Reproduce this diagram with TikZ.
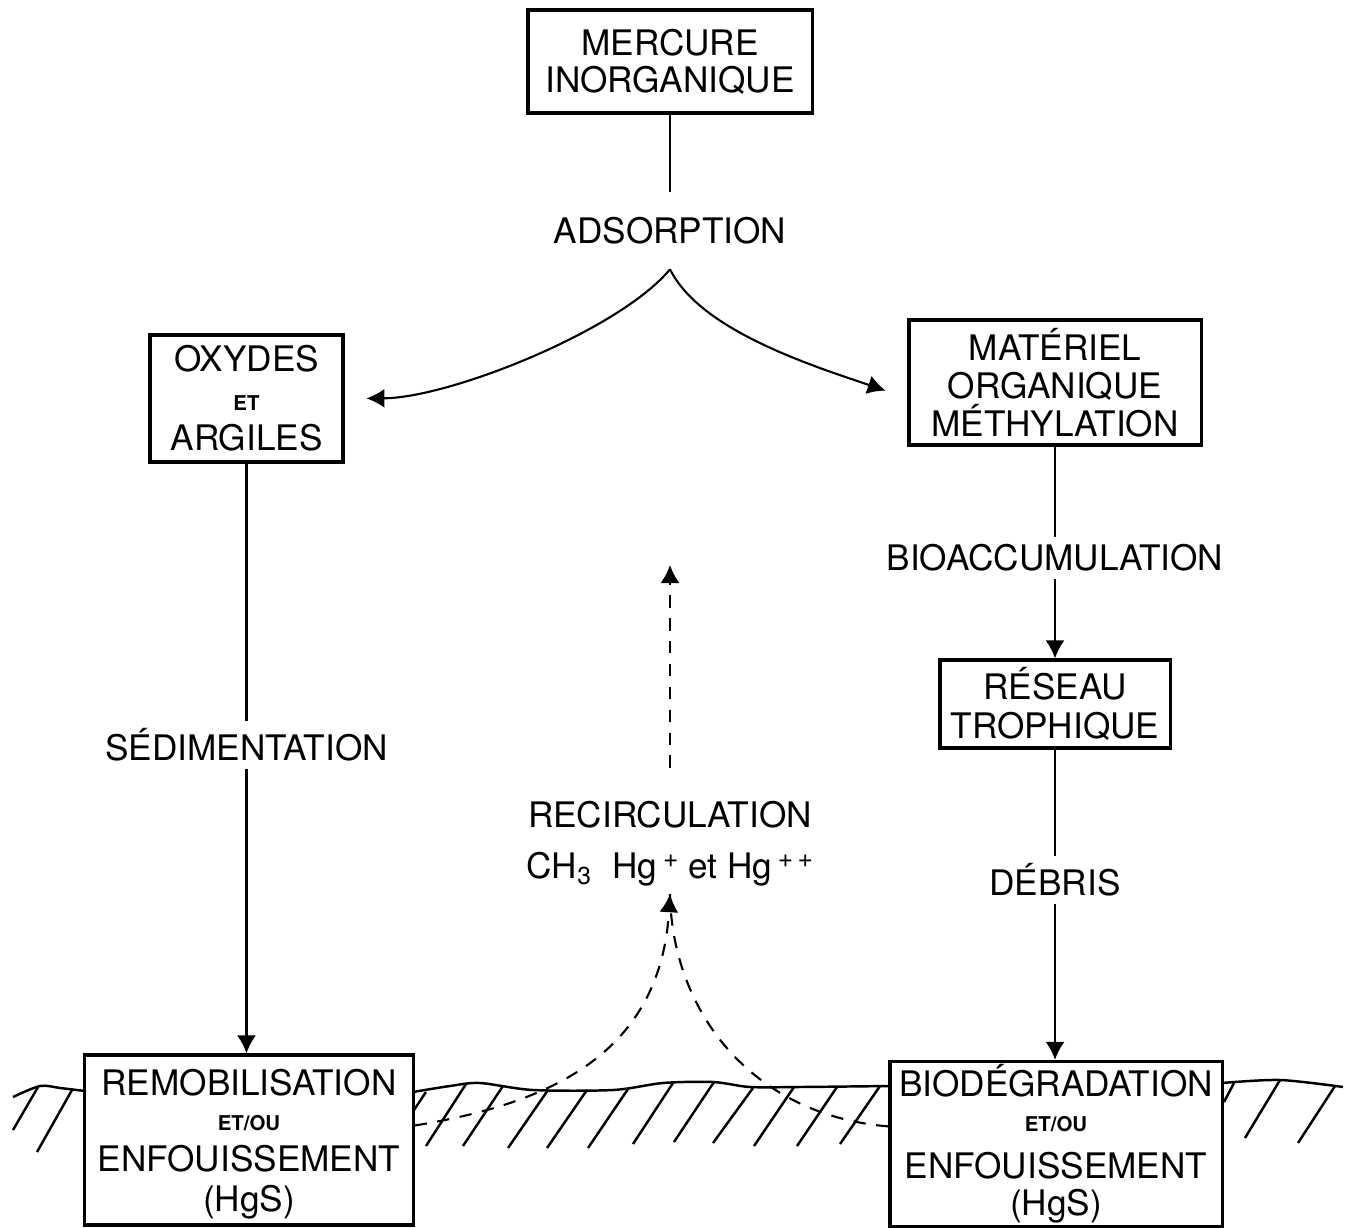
\documentclass[tikz,border=0pt]{standalone}
\usepackage{fontspec}
\setmainfont{TeX Gyre Heros}
\usetikzlibrary{arrows.meta}
\tikzset{
  boite/.style={draw, line width=0.9pt, align=center, inner sep=0pt},
  etiq/.style={inner sep=2pt, align=center, font=\fontsize{10}{12}\selectfont},
  fleche/.style={-{Latex[length=1.8mm,width=1.9mm]}},
  pointille/.style={dash pattern=on 3.5pt off 3pt, line width=0.6pt},
  sol/.style={line width=0.7pt},
}
\newcommand{\petit}[1]{{\fontsize{5.8}{6}\bfseries\selectfont #1}}
\newcommand{\charge}[1]{\raisebox{3.2pt}{\fontsize{7.5}{8}\selectfont #1}}
\begin{document}
\begin{tikzpicture}[x=0.01cm,y=-0.01cm]
      \useasboundingbox (0,0) rectangle (1355,1228);
      \path
        (670,61.5) node[boite, minimum width=2.84cm, minimum height=1.03cm,
          font=\fontsize{10}{10.5}\selectfont] (merc) {MERCURE\\INORGANIQUE}
        (670,230.5) node[etiq, inner sep=7pt] (adsorp) {ADSORPTION}
        (246.5,398.5) node[boite, minimum width=1.93cm, minimum height=1.27cm,
          font=\fontsize{10}{11}\selectfont] (oxy) {OXYDES\\\petit{ET}\\[0.4pt]ARGILES}
        (1055,382.5) node[boite, minimum width=2.92cm, minimum height=1.25cm,
          font=\fontsize{10}{10.8}\selectfont] (mat) {MATÉRIEL\\ORGANIQUE\\MÉTHYLATION}
        (1055,558) node[etiq] (bioacc) {BIOACCUMULATION}
        (1055,704) node[boite, minimum width=2.30cm, minimum height=0.88cm,
          font=\fontsize{10}{11}\selectfont] (res) {RÉSEAU\\TROPHIQUE}
        (1055,880) node[etiq] (debris) {DÉBRIS}
        (246.5,745) node[etiq] (sedim) {SÉDIMENTATION}
        (670,844) node[etiq, font=\fontsize{10}{14.5}\selectfont] (recirc)
          {RECIRCULATION\\CH\textsubscript{3}\ \ Hg\,\charge{+} et Hg\,\charge{+\,+}}
        (249,1140) node[boite, minimum width=3.28cm, minimum height=1.70cm,
          font=\fontsize{10}{11.4}\selectfont] (remob)
          {\rule{0pt}{10pt}REMOBILISATION\\[-1.4pt]\petit{ET/OU}\\[0.3pt]ENFOUISSEMENT\\(HgS)}
        (1056,1144) node[boite, minimum width=3.32cm, minimum height=1.65cm,
          font=\fontsize{10}{10.5}\selectfont] (biod)
          {BIODÉGRADATION\\[-0.5pt]\petit{ET/OU}\\[2.9pt]ENFOUISSEMENT\\(HgS)};
      \coordinate (rtop) at (670,565);
      % fleches pleines
      \begin{scope}[line width=0.6pt]
        \draw (merc) -- (adsorp);
        \draw[fleche, shorten >=6.2pt] (adsorp.south) .. controls (620,330) and (450,398) .. (oxy.east);
        \draw[fleche, shorten >=6.5pt] (adsorp.south) .. controls (700,330) and (810,365) .. (mat.186);
        \draw (oxy) -- (sedim);
        \draw[fleche] (sedim) -- (sedim.south |- remob.north);
        \draw (mat) -- (bioacc);
        \draw[fleche] (bioacc) -- (res);
        \draw (res) -- (debris);
        \draw[fleche] (debris) -- (debris.south |- biod.north);
      \end{scope}
      % recirculation
      \begin{scope}[pointille]
        \draw[fleche, shorten <=7.4pt] (recirc.north) -- (rtop);
        \draw[fleche] (remob.5) .. controls (540,1105) and (660,1060) .. (recirc.south);
        \draw (biod.174) .. controls (750,1115) and (672,1010) .. (recirc.south);
      \end{scope}
      % sol
      \begin{scope}[sol]
        \draw plot[smooth] coordinates {(13,1097) (40,1086) (60,1088) (85,1091)};
        \draw plot[smooth] coordinates {(413,1092) (450,1086) (480,1083) (533,1090) (613,1090)
          (663,1083) (713,1082) (750,1087) (800,1087) (890,1086)};
        \draw plot[smooth] coordinates {(1222,1083) (1280,1080) (1343,1087)};
        \draw (38,1087) -- (13,1130);
        \draw (72,1090) -- (37,1152);
        \draw (426,1092) -- (414,1110);
        \draw (466,1084) -- (426,1146);
        \draw (503,1086) -- (463,1146);
        \draw (548,1090) -- (508,1148);
        \draw (587,1090) -- (547,1148);
        \draw (628,1089) -- (588,1148);
        \draw (673,1083) -- (633,1144);
        \draw (714,1082) -- (674,1142);
        \draw (753,1088) -- (713,1143);
        \draw (794,1087) -- (754,1146);
        \draw (837,1087) -- (797,1146);
        \draw (880,1086) -- (840,1144);
        \draw (1234,1083) -- (1224,1102);
        \draw (1280,1080) -- (1245,1138);
        \draw (1335,1086) -- (1298,1143);
      \end{scope}
\end{tikzpicture}
\end{document}
